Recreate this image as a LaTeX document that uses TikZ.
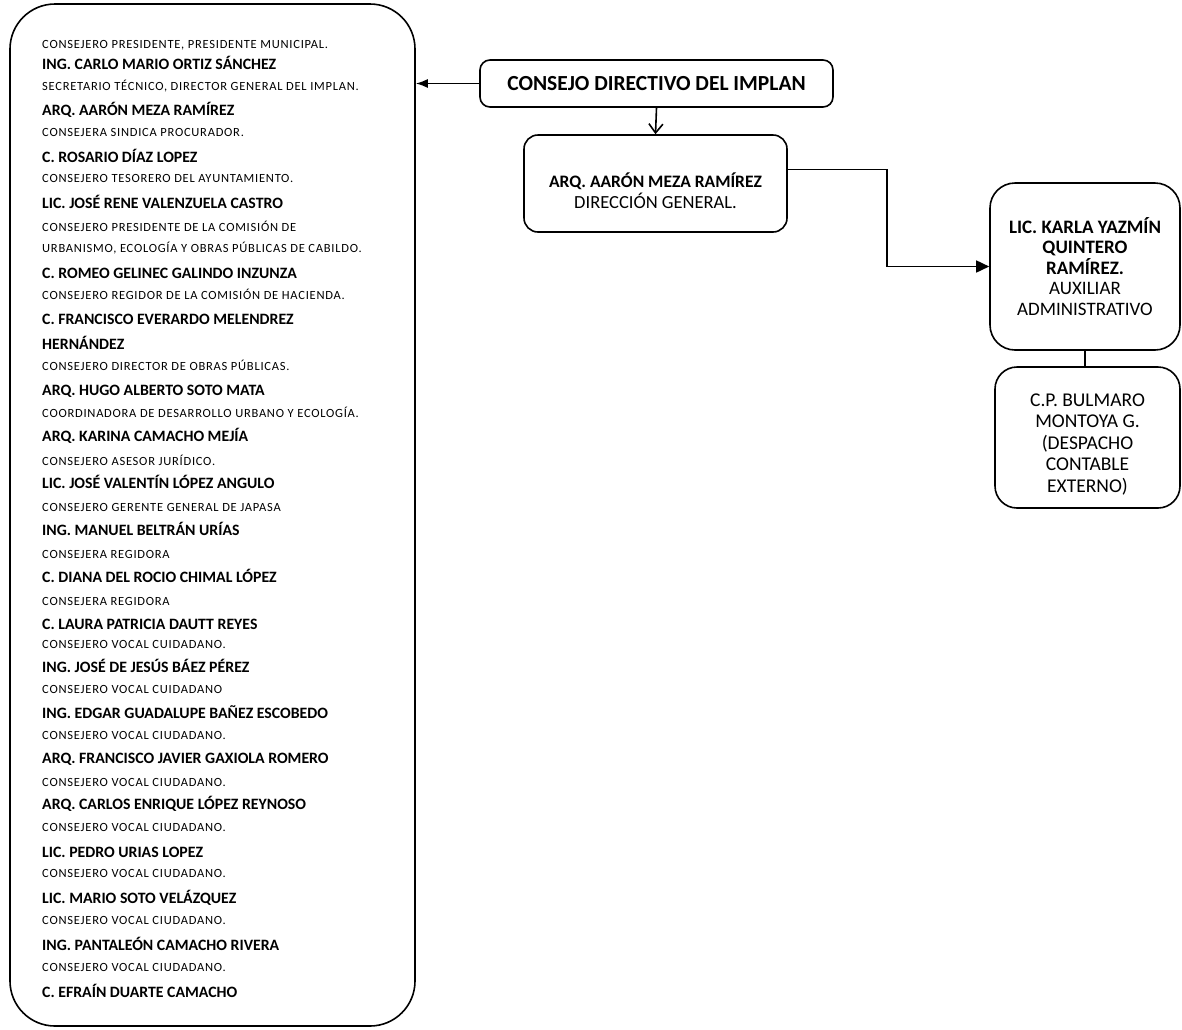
\documentclass[tikz,border=0pt]{standalone}
\usepackage{fontspec}
\setmainfont{Carlito}
\newfontfamily\cargofont[LetterSpace=6]{Carlito}
\usetikzlibrary{arrows.meta}

\tikzset{
  caja/.style={draw, line width=1.6pt, rounded corners=14pt, align=center, inner sep=0pt},
  nombre/.style={anchor=base west, inner sep=0pt, yshift=-5pt, font=\bfseries\fontsize{15.8}{18}\selectfont},
  cargo/.style={anchor=base west, inner sep=0pt, yshift=-4pt, font=\cargofont\fontsize{12.5}{14}\selectfont},
  linea/.style={line width=1.6pt},
}

\begin{document}
\begin{tikzpicture}[x=1pt,y=-1pt]
\useasboundingbox (0,0) rectangle (1182,1029);
% consejo (lista de miembros)
\node[caja, rounded corners=45pt, minimum width=405pt, minimum height=1022pt] (miembros) at (212.5,515) {};
\node[cargo] (m1) at (42,44) {CONSEJERO PRESIDENTE, PRESIDENTE MUNICIPAL.};
\node[nombre] (m2) at (42,64) {ING. CARLO MARIO ORTIZ SÁNCHEZ};
\node[cargo] (m3) at (42,86) {SECRETARIO TÉCNICO, DIRECTOR GENERAL DEL IMPLAN.};
\node[nombre] (m4) at (42,110) {ARQ. AARÓN MEZA RAMÍREZ};
\node[cargo] (m5) at (42,132) {CONSEJERA SINDICA PROCURADOR.};
\node[nombre] (m6) at (42,157) {C. ROSARIO DÍAZ LOPEZ};
\node[cargo] (m7) at (42,178) {CONSEJERO TESORERO DEL AYUNTAMIENTO.};
\node[nombre] (m8) at (42,203) {LIC. JOSÉ RENE VALENZUELA CASTRO};
\node[cargo] (m9) at (42,227) {CONSEJERO PRESIDENTE DE LA COMISIÓN DE};
\node[cargo] (m10) at (42,248) {URBANISMO, ECOLOGÍA Y OBRAS PÚBLICAS DE CABILDO.};
\node[nombre] (m11) at (42,273) {C. ROMEO GELINEC GALINDO INZUNZA};
\node[cargo] (m12) at (42,295) {CONSEJERO REGIDOR DE LA COMISIÓN DE HACIENDA.};
\node[nombre] (m13) at (42,319) {C. FRANCISCO EVERARDO MELENDREZ};
\node[nombre] (m14) at (42,344) {HERNÁNDEZ};
\node[cargo] (m15) at (42,366) {CONSEJERO DIRECTOR DE OBRAS PÚBLICAS.};
\node[nombre] (m16) at (42,390) {ARQ. HUGO ALBERTO SOTO MATA};
\node[cargo] (m17) at (42,413) {COORDINADORA DE DESARROLLO URBANO Y ECOLOGÍA.};
\node[nombre] (m18) at (42,436) {ARQ. KARINA CAMACHO MEJÍA};
\node[cargo] (m19) at (42,461) {CONSEJERO ASESOR JURÍDICO.};
\node[nombre] (m20) at (42,483) {LIC. JOSÉ VALENTÍN LÓPEZ ANGULO};
\node[cargo] (m21) at (42,507) {CONSEJERO GERENTE GENERAL DE JAPASA};
\node[nombre] (m22) at (42,530) {ING. MANUEL BELTRÁN URÍAS};
\node[cargo] (m23) at (42,554) {CONSEJERA REGIDORA};
\node[nombre] (m24) at (42,577) {C. DIANA DEL ROCIO CHIMAL LÓPEZ};
\node[cargo] (m25) at (42,601) {CONSEJERA REGIDORA};
\node[nombre] (m26) at (42,624) {C. LAURA PATRICIA DAUTT REYES};
\node[cargo] (m27) at (42,644) {CONSEJERO VOCAL CUIDADANO.};
\node[nombre] (m28) at (42,667) {ING. JOSÉ DE JESÚS BÁEZ PÉREZ};
\node[cargo] (m29) at (42,689) {CONSEJERO VOCAL CUIDADANO};
\node[nombre] (m30) at (42,713) {ING. EDGAR GUADALUPE BAÑEZ ESCOBEDO};
\node[cargo] (m31) at (42,735) {CONSEJERO VOCAL CIUDADANO.};
\node[nombre] (m32) at (42,758) {ARQ. FRANCISCO JAVIER GAXIOLA ROMERO};
\node[cargo] (m33) at (42,782) {CONSEJERO VOCAL CIUDADANO.};
\node[nombre] (m34) at (42,804) {ARQ. CARLOS ENRIQUE LÓPEZ REYNOSO};
\node[cargo] (m35) at (42,827) {CONSEJERO VOCAL CIUDADANO.};
\node[nombre] (m36) at (42,852) {LIC. PEDRO URIAS LOPEZ};
\node[cargo] (m37) at (42,873) {CONSEJERO VOCAL CIUDADANO.};
\node[nombre] (m38) at (42,898) {LIC. MARIO SOTO VELÁZQUEZ};
\node[cargo] (m39) at (42,920) {CONSEJERO VOCAL CIUDADANO.};
\node[nombre] (m40) at (42,945) {ING. PANTALEÓN CAMACHO RIVERA};
\node[cargo] (m41) at (42,967) {CONSEJERO VOCAL CIUDADANO.};
\node[nombre] (m42) at (42,992) {C. EFRAÍN DUARTE CAMACHO};
% cajas de la derecha
\node[caja, rounded corners=10pt, minimum width=353pt, minimum height=47pt, font=\bfseries\fontsize{21.5}{24}\selectfont] (directivo) at (656.5,83.5) {CONSEJO DIRECTIVO DEL IMPLAN};
\node[caja, minimum width=263pt, minimum height=97pt, font=\fontsize{18.5}{21}\selectfont] (direccion) at (655.5,183.5) {\rule{0pt}{30pt}\textbf{\fontsize{17.5}{21}\selectfont ARQ. AARÓN MEZA RAMÍREZ}\\DIRECCIÓN GENERAL.};
\node[caja, rounded corners=25pt, minimum width=190pt, minimum height=167pt, font=\fontsize{19}{20.5}\selectfont] (auxiliar) at (1085,266.5) {\textbf{LIC. KARLA YAZMÍN}\\\textbf{QUINTERO}\\\textbf{RAMÍREZ.}\\AUXILIAR\\ADMINISTRATIVO};
\node[caja, rounded corners=22pt, minimum width=185pt, minimum height=141pt, font=\fontsize{19.5}{21.5}\selectfont] (despacho) at (1087.5,437.5) {\rule{0pt}{26pt}C.P. BULMARO\\MONTOYA G.\\(DESPACHO\\CONTABLE\\EXTERNO)};
% conectores
\draw[linea, -{Latex[length=12pt,width=9pt]}] (directivo.west) -- (directivo.west -| miembros.east);
\draw[linea, -{Straight Barb[length=9pt,width=14pt]}] (directivo.south) -- (direccion.north);
\draw[linea, -{Triangle[length=13pt,width=12pt]}] ([yshift=14pt]direccion.east) -| ([xshift=-102pt]auxiliar.west) -- (auxiliar.west);
\draw[linea] (auxiliar.south) -- (auxiliar.south |- despacho.north);
\end{tikzpicture}
\end{document}
